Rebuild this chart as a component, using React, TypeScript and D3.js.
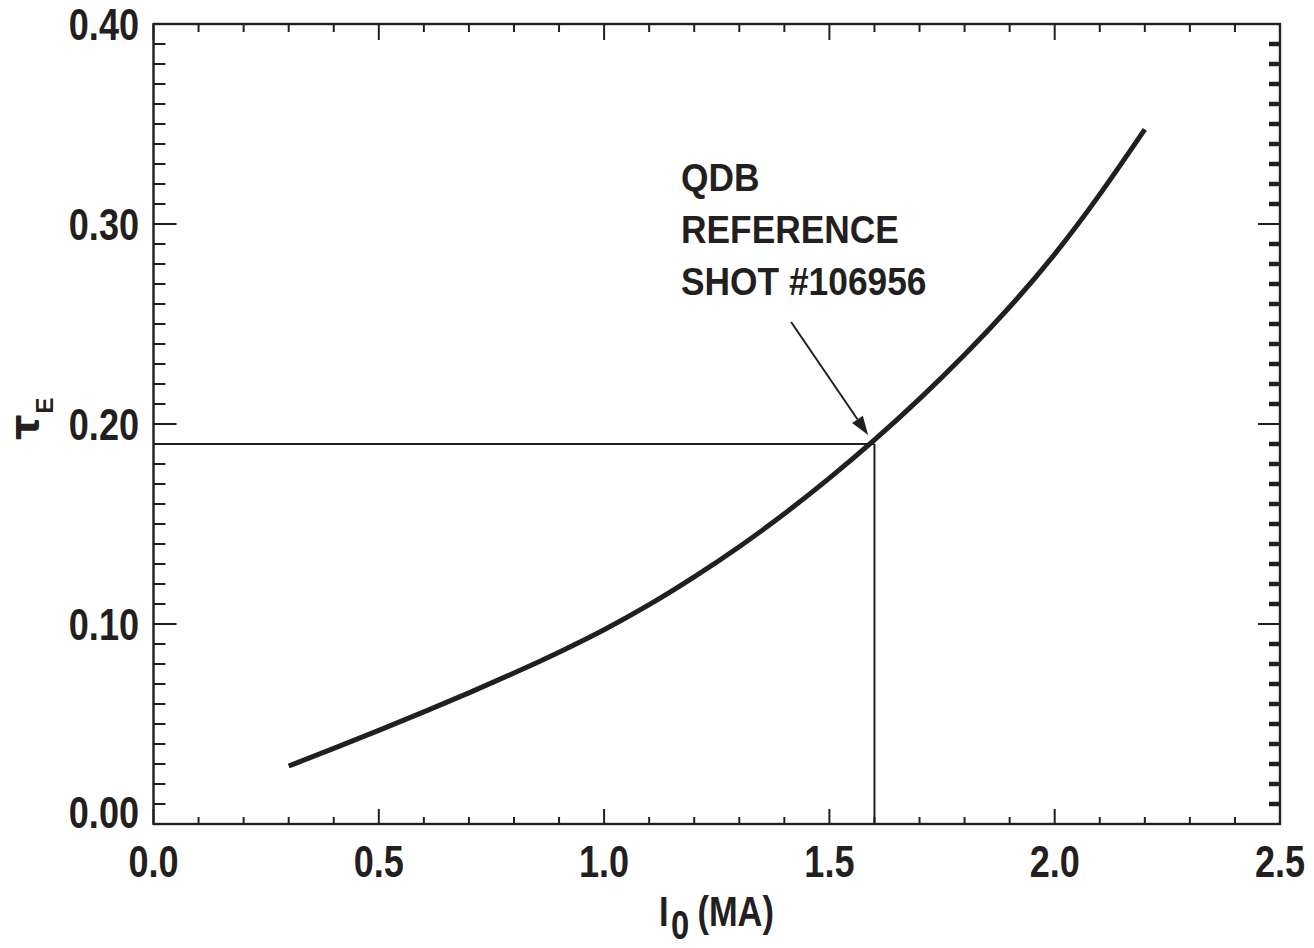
import React from "react";
import * as d3 from "d3";

const currentMA = [0.3, 0.4, 0.5, 0.6, 0.7, 0.8, 0.9, 1.0, 1.1, 1.2, 1.3, 1.4, 1.5, 1.6, 1.7, 1.8, 1.9, 2.0, 2.1, 2.2];
const tauE = [0.029, 0.0378, 0.0468, 0.056, 0.0655, 0.0754, 0.0858, 0.0969, 0.1094, 0.1234, 0.1384, 0.1549, 0.1727, 0.1918, 0.2123, 0.2343, 0.2581, 0.2843, 0.3143, 0.3473];
const xTickLabels = ["0.0", "0.5", "1.0", "1.5", "2.0", "2.5"];
const yTickLabels = ["0.00", "0.10", "0.20", "0.30", "0.40"];
const refPoint = [1.6, 0.19];
const arrowFrom = [1.415, 0.251];
const arrowTo = [1.586, 0.1945];
const annotationLines = ["QDB", "REFERENCE", "SHOT #106956"];

const W = 1314, H = 948;
const L = 153.5, R = 1280, T = 24, B = 824;
const INK = "#231f20";
const FONT = "'Liberation Sans', Arial, Helvetica, sans-serif";

export default function App() {
  const x = d3.scaleLinear().domain([0, 2.5]).range([L, R]);
  const y = d3.scaleLinear().domain([0, 0.4]).range([B, T]);
  const data = currentMA.map((c, i) => [c, tauE[i]] as [number, number]);
  const line = d3.line<[number, number]>().x(d => x(d[0])).y(d => y(d[1])).curve(d3.curveBasis);

  const xMinor = d3.range(0, 26).map(i => i / 10);
  const yMinor = d3.range(0, 41).map(i => i / 100);

  // arrow geometry
  const ax0 = x(arrowFrom[0]), ay0 = y(arrowFrom[1]);
  const ax1 = x(arrowTo[0]), ay1 = y(arrowTo[1]);
  const ang = Math.atan2(ay1 - ay0, ax1 - ax0);
  const hl = 19, hw = 6.5;
  const bx = ax1 - hl * Math.cos(ang), by = ay1 - hl * Math.sin(ang);
  const head = [
    [ax1, ay1],
    [bx + hw * Math.sin(ang), by - hw * Math.cos(ang)],
    [bx - hw * Math.sin(ang), by + hw * Math.cos(ang)],
  ].map(p => p.join(",")).join(" ");

  return (
    <svg width={W} height={H} style={{ position: "absolute", left: 0, top: 0, background: "#fff" }}>
      {/* reference lines */}
      <line x1={L} x2={x(refPoint[0])} y1={y(refPoint[1])} y2={y(refPoint[1])} stroke={INK} strokeWidth={2} />
      <line x1={x(refPoint[0])} x2={x(refPoint[0])} y1={y(refPoint[1])} y2={B} stroke={INK} strokeWidth={2} />

      {/* curve */}
      <path d={line(data) || ""} fill="none" stroke={INK} strokeWidth={5} />

      {/* ticks bottom / top */}
      {xMinor.map((v, i) => {
        const major = i % 5 === 0;
        return (
          <g key={"xt" + i}>
            <line x1={x(v)} x2={x(v)} y1={B} y2={B - (major ? 15 : 7)} stroke={INK} strokeWidth={2} />
            <line x1={x(v)} x2={x(v)} y1={T} y2={T + (major ? 16 : 8)} stroke={INK} strokeWidth={2} />
          </g>
        );
      })}
      {/* ticks left / right */}
      {yMinor.map((v, i) => {
        const major = i % 10 === 0;
        return (
          <g key={"yt" + i}>
            <line x1={L} x2={L + (major ? 23 : 12)} y1={y(v)} y2={y(v)} stroke={INK} strokeWidth={2} />
            <line x1={R} x2={R - (major ? 22 : 11)} y1={y(v)} y2={y(v)} stroke={INK} strokeWidth={major ? 2 : 4.5} />
          </g>
        );
      })}

      {/* frame */}
      <rect x={L} y={T} width={R - L} height={B - T} fill="none" stroke={INK} strokeWidth={2.4} />

      {/* arrow */}
      <line x1={ax0} y1={ay0} x2={bx} y2={by} stroke={INK} strokeWidth={2} />
      <polygon points={head} fill={INK} />

      {/* annotation */}
      {annotationLines.map((t, i) => (
        <g key={"an" + i} transform={`translate(681,${191 + i * 52}) scale(0.93,1)`}>
          <text fontFamily={FONT} fontWeight="bold" fontSize={38} fill={INK}>{t}</text>
        </g>
      ))}

      {/* x tick labels */}
      {xTickLabels.map((t, i) => (
        <g key={"xl" + i} transform={`translate(${x(+t)},877) scale(0.82,1)`}>
          <text textAnchor="middle" fontFamily={FONT} fontWeight="bold" fontSize={44} fill={INK}>{t}</text>
        </g>
      ))}
      {/* y tick labels */}
      {yTickLabels.map((t, i) => {
        const v = +t;
        const base = v === 0 ? 828 : y(v) + 16;
        return (
          <g key={"yl" + i} transform={`translate(139,${base}) scale(0.82,1)`}>
            <text textAnchor="end" fontFamily={FONT} fontWeight="bold" fontSize={44} fill={INK}>{t}</text>
          </g>
        );
      })}

      {/* x axis title */}
      <g transform="translate(659,926) scale(0.82,1)">
        <text fontFamily={FONT} fontWeight="bold" fontSize={42} fill={INK}>
          I<tspan fontSize={40} dy={13} dx={3}>0</tspan>
          <tspan dy={-13} dx={10}>(MA)</tspan>
        </text>
      </g>

      {/* y axis title */}
      <g transform="translate(38,440) rotate(-90)">
        <text fontFamily="'DejaVu Sans', sans-serif" fontWeight="bold" fontSize={40} fill={INK}>
          τ
          <tspan fontFamily={FONT} fontWeight="bold" fontSize={24} dy={15} dx={1}>E</tspan>
        </text>
      </g>
    </svg>
  );
}
